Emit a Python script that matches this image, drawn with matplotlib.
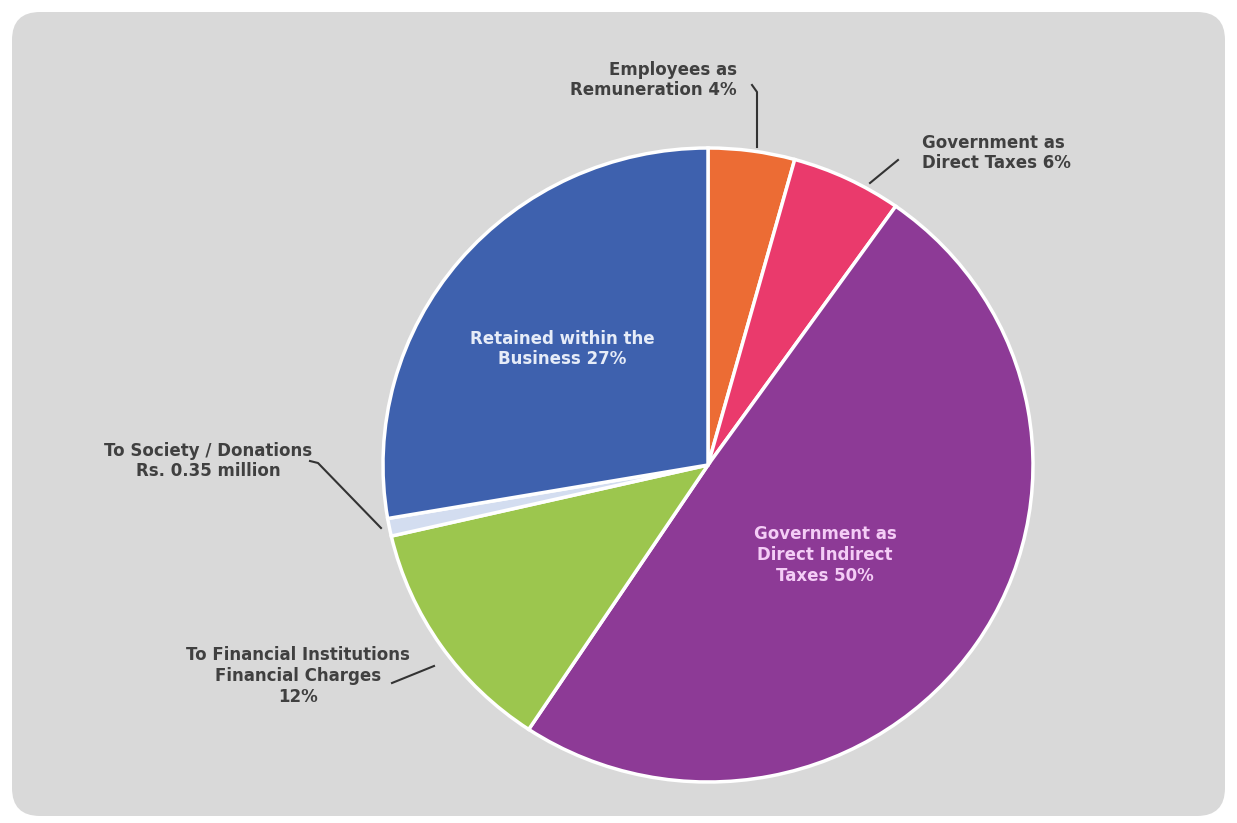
import matplotlib.pyplot as plt
from matplotlib.patches import FancyBboxPatch

# slices, clockwise from 12 o'clock
labels = ['Employees as\nRemuneration 4%', 'Government as\nDirect Taxes 6%',
          'Government as\nDirect Indirect\nTaxes 50%', 'To Financial Institutions\nFinancial Charges\n12%',
          'To Society / Donations\nRs. 0.35 million', 'Retained within the\nBusiness 27%']
shares = [4.3, 5.5, 49.5, 12.1, 0.9, 27.7]
colors = ['#EC6C34', '#EA3A6C', '#8D3A96', '#9CC64E', '#D3DDF0', '#3E61AE']

W, H = 1237, 823
R = 325.0
ys = R / 317.0  # pie is slightly squashed vertically


def py(y):
    # image pixel row -> data y
    return (H - y) * ys


fig = plt.figure(figsize=(W / 100, H / 100), dpi=100)
fig.patch.set_facecolor('white')
ax = fig.add_axes([0, 0, 1, 1])
ax.set_xlim(0, W)
ax.set_ylim(0, H * ys)

# rounded grey panel
bg = FancyBboxPatch((12, py(816)), W - 24, (816 - 12) * ys,
                    boxstyle='round,pad=0,rounding_size=28',
                    fc='#D9D9D9', ec='none', mutation_aspect=ys)
ax.add_patch(bg)

ax.pie(shares, colors=colors, startangle=90, counterclock=False,
       radius=R, center=(708, py(465)), frame=True,
       wedgeprops=dict(edgecolor='white', linewidth=2.5))
ax.set_xlim(0, W)
ax.set_ylim(0, H * ys)
ax.set_aspect('auto')
ax.axis('off')

txt = dict(fontsize=12, fontweight='bold', family='DejaVu Sans', linespacing=1.2)
dark = '#404040'

ax.text(737, py(80), labels[0], ha='right', va='center', multialignment='right', color=dark, **txt)
ax.text(922, py(153), labels[1], ha='left', va='center', multialignment='left', color=dark, **txt)
ax.text(825, py(555), labels[2], ha='center', va='center', multialignment='center', color='#F4CDF6', **txt)
ax.text(298, py(676), labels[3], ha='center', va='center', multialignment='center', color=dark, **txt)
ax.text(208, py(461), labels[4], ha='center', va='center', multialignment='center', color=dark, **txt)
ax.text(562, py(349), labels[5], ha='center', va='center', multialignment='center', color='#E6ECF8', **txt)

# leader lines
line = dict(color='#333333', lw=1.5)
ax.plot([752, 757, 757], [py(85), py(92), py(147)], **line)
ax.plot([870, 898], [py(183), py(160)], **line)
ax.plot([310, 318, 381], [py(461), py(463), py(528)], **line)
ax.plot([392, 434], [py(683), py(666)], **line)

fig.savefig('out.png', dpi=100)
